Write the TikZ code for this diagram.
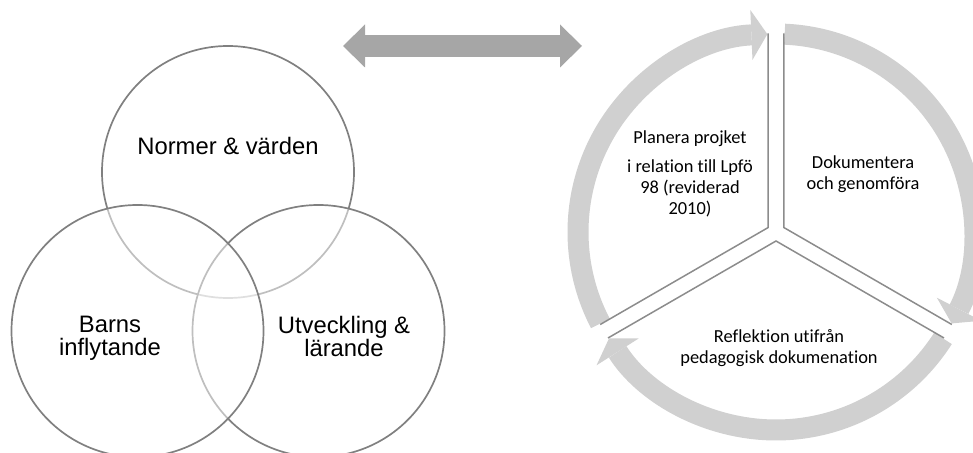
\documentclass[tikz,border=0pt]{standalone}
\usepackage{fontspec}
\setmainfont{Liberation Sans}[Ligatures=NoCommon]
\newfontfamily\calfont{Carlito}[Ligatures=NoCommon]
\usetikzlibrary{arrows.meta,positioning}
\definecolor{venngray}{HTML}{808080}
\definecolor{ringgray}{HTML}{D0D0D0}
\definecolor{arrowgray}{HTML}{A6A6A6}
\definecolor{edgegray}{HTML}{8C8C8C}
\begin{document}
\begin{tikzpicture}[x=1pt,y=1pt,
  venn/.style={circle,draw=venngray,line width=1.7pt,fill=white,fill opacity=0.5,minimum size=252pt,inner sep=0pt},
  venntext/.style={font=\fontsize{23.8}{23}\selectfont,align=center,inner sep=0pt},
  cyctext/.style={font=\calfont\fontsize{18.4}{21}\selectfont,align=center,inner sep=0pt},
  ring/.style={draw=ringgray,line width=21pt,-{Triangle[width=50pt,length=16pt,line width=0pt]}},
  edge/.style={draw=edgegray,line width=1.5pt}]
\clip (0,0) rectangle (973,452);
% venn
\node[venn] (norm) at (228,280) {};
\node[venn] (utv) at (318.5,121) {};
\node[venn] (barn) at (137.5,121) {};
\node[venntext] (normt) at (228,306.5) {Normer \& värden};
\node[venntext] (barnt) at (110,113.5) {Barns\\inflytande};
\node[venntext] (utvt) at (344,116) {Utveckling \&\\lärande};
% double arrow
\coordinate (la) at (343,406);
\coordinate (ra) at (582,406);
\draw[arrowgray,line width=22pt,{Triangle[width=43pt,length=22pt,line width=0pt]}-{Triangle[width=43pt,length=22pt,line width=0pt]}] (la) -- (ra);
% cycle
\coordinate (c) at (776,220);
\foreach \a in {87.5,-32.5,207.5}
  \draw[ring] (c) ++(\a:198) arc[start angle=\a, delta angle=-115, radius=198];
\foreach \b in {150,30,270}
  \draw[edge] (c) ++(\b:9) ++({\b+60}:194) -- ++({\b+240}:194) -- ++({\b-60}:194);
\node[cyctext] (plan) at (690,278.5) {Planera projket\\[8pt]i relation till Lpfö\\98 (reviderad\\2010)};
\node[cyctext] (dok) at (863,278.3) {Dokumentera\\och genomföra};
\node[cyctext] (refl) at (779,104) {Reflektion utifrån\\pedagogisk dokumenation};
\end{tikzpicture}
\end{document}
